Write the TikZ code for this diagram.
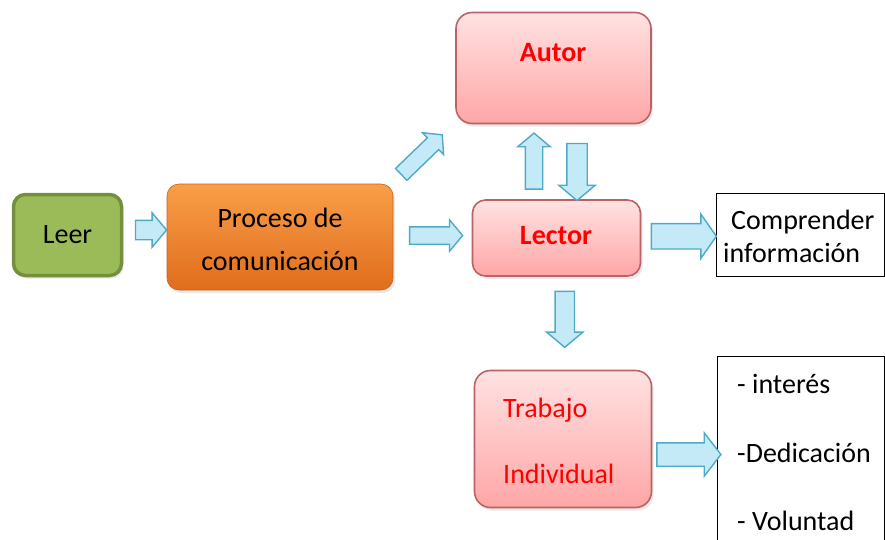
\documentclass[tikz,border=0pt]{standalone}
\usepackage{fontspec}
\setmainfont{Carlito}
\usetikzlibrary{shapes.arrows,calc,shadows}
\definecolor{leerfill}{HTML}{9BBB59}
\definecolor{leerline}{HTML}{74903E}
\definecolor{orangetop}{HTML}{FA9E48}
\definecolor{orangebot}{HTML}{DF6D1C}
\definecolor{pinktop}{HTML}{FFE2E2}
\definecolor{pinkbot}{HTML}{FFA6A6}
\definecolor{pinkline}{HTML}{BA6367}
\definecolor{arrowfill}{HTML}{C4EAF7}
\definecolor{arrowline}{HTML}{4FAAC6}
\definecolor{redtext}{HTML}{FF0000}
\tikzset{
  txt/.style={font=\fontsize{28}{34}\selectfont, inner sep=0pt},
  softshadow/.style={drop shadow={opacity=0.18, shadow xshift=2pt, shadow yshift=-3pt}},
  greenbox/.style={draw=leerline, line width=3.5pt, fill=leerfill, rounded corners=12pt, softshadow},
  orangebox/.style={top color=orangetop, bottom color=orangebot, draw=orangebot!90!black, line width=0.6pt, rounded corners=12pt, softshadow},
  pinkbox/.style={top color=pinktop, bottom color=pinkbot, draw=pinkline, line width=1.6pt, rounded corners=16pt, softshadow},
  plainbox/.style={draw=black, line width=1pt, fill=white, inner sep=0pt},
  barrow/.style n args={4}{single arrow, draw=arrowline, fill=arrowfill, line width=1.4pt,
     text height=0pt, text depth=0pt, inner xsep=0pt, inner ysep={(#2)/2},
     single arrow head extend={(#3-#2)/2}, minimum width=0pt, minimum height=#1,
     single arrow tip angle=#4},
}
\begin{document}
\begin{tikzpicture}[x=1pt,y=-1pt]
\useasboundingbox (0,0) rectangle (885,539);
\clip (0,0) rectangle (885,539);
\fill[white] (0,0) rectangle (885,539);

% boxes
\node[greenbox, minimum width=108pt, minimum height=81pt] (leer) at (67.5,235) {};
\node[txt] (leert) at (leer.center) {Leer};

\node[orangebox, minimum width=226pt, minimum height=106pt] (proc) at (280,237) {};
\node[txt, anchor=base] (proct1) at (280,227) {Proceso de};
\node[txt, anchor=base] (proct2) at (280,270) {comunicación};

\node[pinkbox, minimum width=195pt, minimum height=111pt] (autor) at (553.5,68) {};
\node[txt, anchor=base, text=redtext, font=\fontsize{28}{34}\selectfont\bfseries] (autort) at (553,61) {Autor};

\node[pinkbox, rounded corners=13pt, minimum width=168pt, minimum height=76pt] (lector) at (556.5,238) {};
\node[txt, anchor=base, text=redtext, font=\fontsize{28}{34}\selectfont\bfseries] (lectort) at (556,244) {Lector};

\node[pinkbox, minimum width=177pt, minimum height=137pt] (trab) at (563,439) {};
\node[txt, anchor=base west, text=redtext] (trabt1) at (503,417) {Trabajo};
\node[txt, anchor=base west, text=redtext] (trabt2) at (503,483) {Individual};

\node[plainbox, minimum width=168pt, minimum height=83pt] (comp) at (800,234.5) {};
\node[txt, anchor=base west] (compt1) at (731,229) {Comprender};
\node[txt, anchor=base west] (compt2) at (723,262) {información};

\node[plainbox, minimum width=167pt, minimum height=220pt] (lista) at (800.5,466) {};
\node[txt, anchor=base west] (l1) at (737,393) {- interés};
\node[txt, anchor=base west] (l2) at (737,462) {-Dedicación};
\node[txt, anchor=base west] (l3) at (737,530) {- Voluntad};

% block arrows
\node[barrow={31pt}{18pt}{33pt}{100}] (a1) at ($(leer.east)!0.5!(proc.west)+(2,-6)$) {};
\node[barrow={53pt}{16pt}{30pt}{100}] (a2) at ($(proc.east)!0.5!(lector.west)+(0,-2)$) {};
\node[barrow={57pt}{15pt}{29pt}{100}, rotate=44] (a3) at ($(proc.north east)!0.5!(autor.south west)+(-5,3)$) {};
\node[barrow={56pt}{16pt}{31pt}{100}, rotate=90] (a4) at ($(autor.south)!0.5!(lector.north)+(-21,3)$) {};
\node[barrow={57pt}{19pt}{35pt}{100}, rotate=-90] (a5) at ($(autor.south)!0.5!(lector.north)+(22,6)$) {};
\node[barrow={65pt}{24pt}{43pt}{110}] (a6) at ($(lector.east)!0.5!(comp.west)+(1,0)$) {};
\node[barrow={56pt}{18pt}{35pt}{100}, rotate=-90] (a7) at ($(lector.south)!0.5!(trab.north)+(5,-8)$) {};
\node[barrow={64pt}{22pt}{42pt}{105}] (a8) at ($(trab.east)!0.5!(lista.west)+(0,2)$) {};
\end{tikzpicture}
\end{document}
